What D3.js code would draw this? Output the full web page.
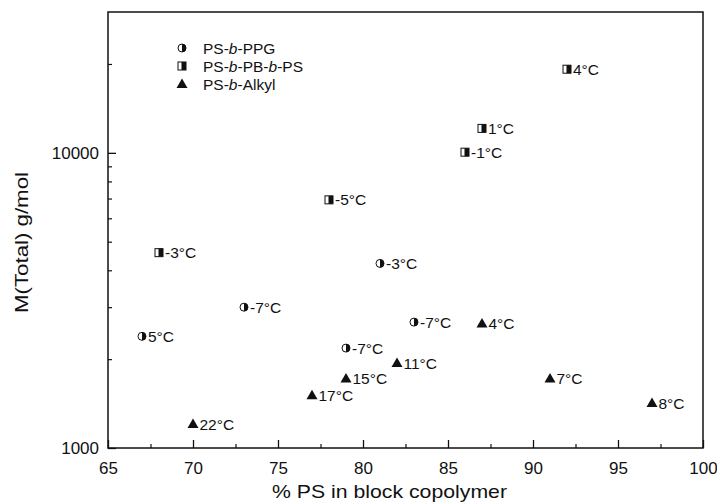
<!DOCTYPE html>
<html><head><meta charset="utf-8">
<script src="https://cdn.jsdelivr.net/npm/d3@7"></script>
<style>body{margin:0;background:#fff}svg{display:block}text{font-family:"Liberation Sans",Arial,sans-serif;fill:#111}</style>
</head><body>
<svg id="c" width="717" height="504"></svg>
<script>
const ppgX = [67, 73, 81, 83, 79];
const ppgY = [2390, 3000, 4220, 2670, 2180];
const ppgLabel = ["5°C", "-7°C", "-3°C", "-7°C", "-7°C"];

const pbX = [92, 87, 86, 78, 68];
const pbY = [19200, 12100, 10050, 6930, 4590];
const pbLabel = ["4°C", "1°C", "-1°C", "-5°C", "-3°C"];

const alkX = [87, 82, 79, 77, 91, 97, 70];
const alkY = [2640, 1940, 1720, 1510, 1720, 1420, 1205];
const alkLabel = ["4°C", "11°C", "15°C", "17°C", "7°C", "8°C", "22°C"];

const xTicks = [65, 70, 75, 80, 85, 90, 95, 100];
const xMinor = [67.5, 72.5, 77.5, 82.5, 87.5, 92.5, 97.5];
const yTicks = [1000, 10000];
const yMinor = [2000, 3000, 4000, 5000, 6000, 7000, 8000, 9000, 20000];
const legendNames = ["PS-b-PPG", "PS-b-PB-b-PS", "PS-b-Alkyl"];

const svg = d3.select("#c");
const L = 108, R = 703, T = 12, B = 448;
const x = d3.scaleLinear().domain([65, 100]).range([L, R]);
const y = d3.scaleLog().domain([1000, 30000]).range([B, T]);

// frame
svg.append("rect").attr("x", L).attr("y", T).attr("width", R - L).attr("height", B - T)
  .attr("fill", "none").attr("stroke", "#111").attr("stroke-width", 1.5);

// x axis ticks (inward)
const xa = svg.append("g").attr("transform", `translate(0,${B})`)
  .call(d3.axisBottom(x).tickValues(xTicks).tickSize(-8).tickPadding(14).tickFormat(d3.format("d")));
xa.select(".domain").remove();
xa.selectAll("line").attr("stroke", "#111").attr("stroke-width", 1.3);
xa.selectAll("text").style("font-size", "17px").attr("fill", "#111");
const xm = svg.append("g").attr("transform", `translate(0,${B})`)
  .call(d3.axisBottom(x).tickValues(xMinor).tickSize(-4).tickFormat(""));
xm.select(".domain").remove();
xm.selectAll("line").attr("stroke", "#111").attr("stroke-width", 1.2);

// y axis ticks (inward)
const ya = svg.append("g").attr("transform", `translate(${L},0)`)
  .call(d3.axisLeft(y).tickValues(yTicks).tickSize(-8).tickPadding(9).tickFormat(d3.format("d")));
ya.select(".domain").remove();
ya.selectAll("line").attr("stroke", "#111").attr("stroke-width", 1.3);
ya.selectAll("text").style("font-size", "17px").attr("fill", "#111");
const ym = svg.append("g").attr("transform", `translate(${L},0)`)
  .call(d3.axisLeft(y).tickValues(yMinor).tickSize(-4).tickFormat(""));
ym.select(".domain").remove();
ym.selectAll("line").attr("stroke", "#111").attr("stroke-width", 1.2);

// axis titles
svg.append("text").attr("x", 272).attr("y", 498)
  .attr("textLength", 235).attr("lengthAdjust", "spacingAndGlyphs")
  .style("font-size", "19px").text("% PS in block copolymer");
svg.append("text").attr("transform", "translate(28,313) rotate(-90)")
  .attr("textLength", 141).attr("lengthAdjust", "spacingAndGlyphs")
  .style("font-size", "18px").text("M(Total) g/mol");

// marker drawers
function halfCircle(g, cx, cy) {
  const r = 4;
  g.append("circle").attr("cx", cx).attr("cy", cy).attr("r", r).attr("fill", "#fff").attr("stroke", "#111").attr("stroke-width", 1);
  g.append("path").attr("d", `M${cx},${cy - r} A${r},${r} 0 0 1 ${cx},${cy + r} Z`).attr("fill", "#111");
}
function halfSquare(g, cx, cy) {
  const s = 4;
  g.append("rect").attr("x", cx - s).attr("y", cy - s).attr("width", 2 * s).attr("height", 2 * s)
    .attr("fill", "#fff").attr("stroke", "#111").attr("stroke-width", 1);
  g.append("rect").attr("x", cx - 0.5).attr("y", cy - s).attr("width", s + 0.5).attr("height", 2 * s).attr("fill", "#111");
}
function tri(g, cx, cy) {
  g.append("path").attr("d", `M${cx},${cy - 5.5} L${cx + 5.5},${cy + 4} L${cx - 5.5},${cy + 4} Z`).attr("fill", "#111");
}

const pts = svg.append("g");
function series(xs, ys, labels, draw, off) {
  xs.forEach((v, i) => {
    const cx = x(v), cy = y(ys[i]);
    draw(pts, cx, cy);
    pts.append("text").attr("x", cx + off).attr("y", cy).attr("dy", "0.36em")
      .style("font-size", "15.5px").text(labels[i]);
  });
}
series(ppgX, ppgY, ppgLabel, halfCircle, 6);
series(pbX, pbY, pbLabel, halfSquare, 6);
series(alkX, alkY, alkLabel, tri, 6.5);

// legend
const lg = svg.append("g");
const drawers = [halfCircle, halfSquare, tri];
legendNames.forEach((n, i) => {
  const cy = 48 + i * 18;
  drawers[i](lg, 182, cy);
  const parts = n.split("-");
  const t = lg.append("text").attr("x", 203).attr("y", cy).attr("dy", "0.36em").style("font-size", "15.5px");
  parts.forEach((p, j) => {
    if (j > 0) t.append("tspan").text("-");
    if (p === "b") t.append("tspan").style("font-style", "italic").text("b");
    else t.append("tspan").text(p);
  });
});
</script>
</body></html>
